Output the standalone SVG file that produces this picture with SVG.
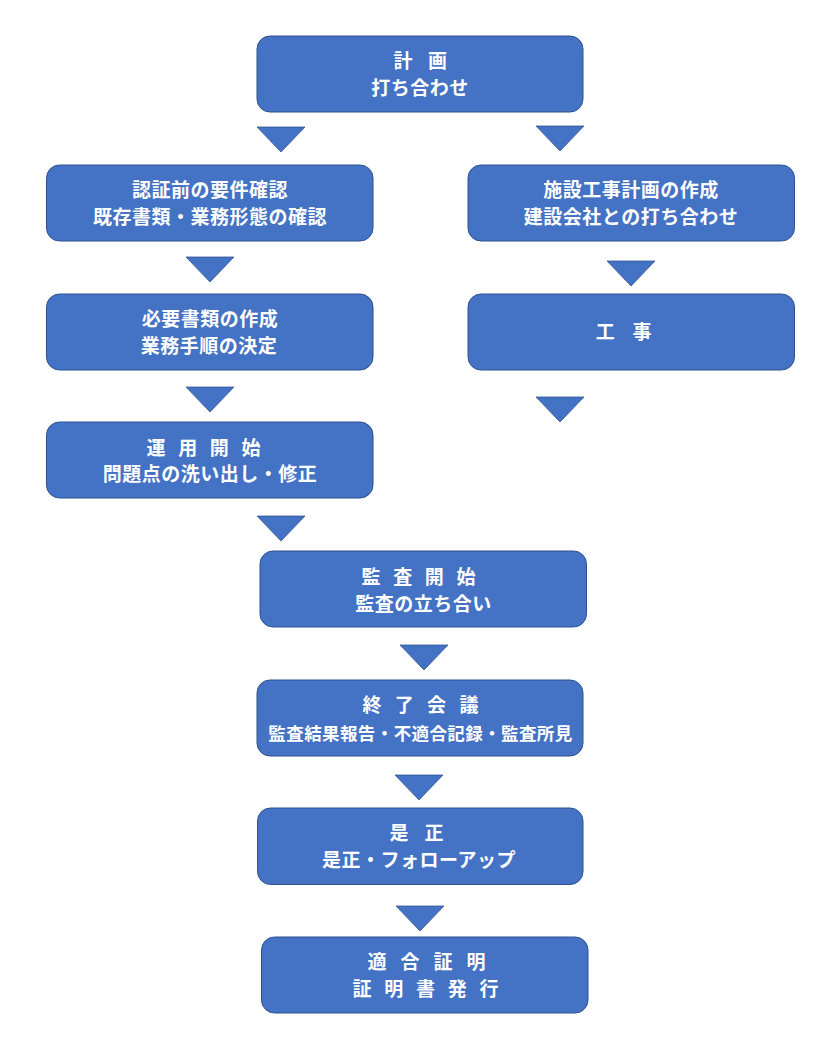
<svg xmlns="http://www.w3.org/2000/svg" width="840" height="1050" viewBox="0 0 840 1050">
<style>
.box{fill:#4472C4;stroke:#2F528F;stroke-width:1}
.arr{fill:#4472C4;stroke:#2F528F;stroke-width:0.75}
text{font-family:"Noto Sans CJK JP","Noto Sans",sans-serif;font-weight:bold;fill:#FFFFFF;font-size:19px;text-anchor:middle;letter-spacing:0.5px}
.sm{font-size:17.5px;letter-spacing:0.4px}
</style>
<rect width="840" height="1050" fill="#FFFFFF"/>
<g id="connectors">
<polygon class="arr" points="257,127 305,127 281,152"/>
<polygon class="arr" points="536,126 584,126 560,151"/>
<polygon class="arr" points="186,257 234,257 210,282"/>
<polygon class="arr" points="607,261 655,261 631,286"/>
<polygon class="arr" points="186,387 234,387 210,412"/>
<polygon class="arr" points="536,397 584,397 560,422"/>
<polygon class="arr" points="257,516 305,516 281,541"/>
<polygon class="arr" points="400,645 448,645 424,670"/>
<polygon class="arr" points="395,775 443,775 419,800"/>
<polygon class="arr" points="396,906 444,906 420,931"/>
</g>
<g id="n1">
<rect class="box" x="257" y="36" width="326" height="76" rx="13"/>
<text x="423" y="68" style="letter-spacing:5.6px">計 画</text>
<text x="420" y="95">打ち合わせ</text>
</g>
<g id="n2">
<rect class="box" x="46.5" y="165" width="326.5" height="76" rx="13"/>
<text x="210" y="197">認証前の要件確認</text>
<text x="210" y="224">既存書類・業務形態の確認</text>
</g>
<g id="n3">
<rect class="box" x="468" y="165" width="326.5" height="76" rx="13"/>
<text x="631" y="197">施設工事計画の作成</text>
<text x="631" y="224">建設会社との打ち合わせ</text>
</g>
<g id="n4">
<rect class="box" x="46.5" y="294" width="326.5" height="76" rx="13"/>
<text x="210" y="326">必要書類の作成</text>
<text x="209" y="353">業務手順の決定</text>
</g>
<g id="n5">
<rect class="box" x="468" y="294" width="326.5" height="76" rx="13"/>
<text x="627" y="339" style="letter-spacing:6.7px">工 事</text>
</g>
<g id="n6">
<rect class="box" x="46.5" y="422" width="326.5" height="76" rx="13"/>
<text x="205.6" y="455" style="letter-spacing:4.2px">運 用 開 始</text>
<text x="210" y="481">問題点の洗い出し・修正</text>
</g>
<g id="n7">
<rect class="box" x="260" y="551" width="326.5" height="76" rx="13"/>
<text x="420.6" y="584" style="letter-spacing:4.2px">監 査 開 始</text>
<text x="423.5" y="611">監査の立ち合い</text>
</g>
<g id="n8">
<rect class="box" x="257" y="680" width="326" height="76" rx="13"/>
<text x="422.7" y="712" style="letter-spacing:4.5px">終 了 会 議</text>
<text class="sm" x="420.5" y="740">監査結果報告・不適合記録・監査所見</text>
</g>
<g id="n9">
<rect class="box" x="257.5" y="808" width="325.5" height="76.5" rx="13"/>
<text x="419.4" y="840" style="letter-spacing:5.85px">是 正</text>
<text x="419" y="867">是正・フォローアップ</text>
</g>
<g id="n10">
<rect class="box" x="261.5" y="937" width="326.5" height="76" rx="13"/>
<text x="429" y="969" style="letter-spacing:4.85px">適 合 証 明</text>
<text x="427.6" y="996" style="letter-spacing:4.2px">証 明 書 発 行</text>
</g>
</svg>
